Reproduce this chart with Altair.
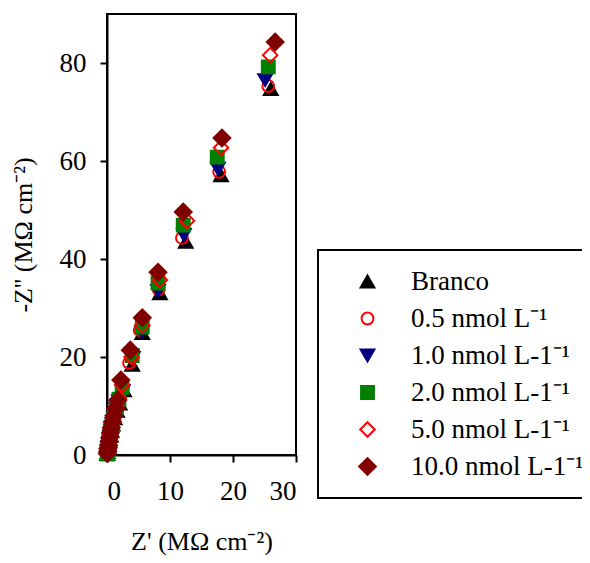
import altair as alt
import pandas as pd

series = ["Branco", "0.5 nmol L⁻¹", "1.0 nmol L-1⁻¹", "2.0 nmol L-1⁻¹",
          "5.0 nmol L-1⁻¹", "10.0 nmol L-1⁻¹"]

branco_x = [0.05, 0.1, 0.2, 0.3, 0.4, 0.55, 0.7, 0.9, 1.2, 1.6, 2.0, 2.7, 4.0, 5.6, 8.4, 12.5, 18.1, 26.0]
branco_y = [0.2, 0.6, 1.2, 2.0, 2.9, 3.9, 5.0, 6.2, 7.5, 9.0, 10.5, 13.2, 18.4, 24.9, 33.0, 43.5, 57.1, 74.7]

c05_x = [0.05, 0.1, 0.2, 0.3, 0.4, 0.5, 0.65, 0.85, 1.1, 1.5, 1.9, 2.5, 3.5, 5.2, 8.2, 11.9, 17.8, 25.6]
c05_y = [0.2, 0.6, 1.2, 2.0, 2.9, 3.9, 5.0, 6.3, 7.7, 9.3, 11.0, 13.8, 18.8, 25.5, 33.8, 44.3, 57.8, 75.3]

c10_x = [0.05, 0.1, 0.2, 0.3, 0.4, 0.5, 0.65, 0.85, 1.1, 1.5, 1.9, 2.5, 4.1, 5.6, 8.1, 12.2, 17.6, 25.1]
c10_y = [0.2, 0.6, 1.2, 2.0, 2.9, 3.9, 5.0, 6.3, 7.7, 9.3, 11.0, 13.0, 19.8, 25.1, 33.5, 44.9, 58.4, 76.5]

c20_x = [0.05, 0.1, 0.2, 0.3, 0.4, 0.5, 0.65, 0.85, 1.1, 1.5, 1.9, 2.4, 4.0, 5.6, 8.1, 12.1, 17.5, 25.6]
c20_y = [0.2, 0.6, 1.3, 2.1, 3.0, 4.0, 5.2, 6.5, 7.9, 9.6, 11.4, 13.8, 20.3, 26.1, 35.1, 46.9, 60.8, 79.2]

c50_x = [0.05, 0.1, 0.2, 0.3, 0.4, 0.5, 0.65, 0.85, 1.1, 1.5, 1.9, 2.4, 3.9, 5.6, 8.4, 12.7, 18.1, 25.9]
c50_y = [0.2, 0.6, 1.3, 2.1, 3.0, 4.1, 5.3, 6.6, 8.0, 9.8, 11.6, 14.3, 20.0, 26.5, 35.7, 47.8, 62.7, 81.6]

c100_x = [0.05, 0.1, 0.15, 0.25, 0.35, 0.45, 0.55, 0.7, 0.85, 1.1, 1.4, 1.7, 2.2, 3.7, 5.6, 8.1, 12.1, 18.25, 26.7]
c100_y = [0.3, 0.7, 1.3, 2.0, 2.8, 3.6, 4.6, 5.6, 6.8, 8.0, 9.5, 11.2, 15.3, 21.4, 28.0, 37.3, 49.6, 64.7, 84.3]

shapes = ["triangle-up", "circle", "triangle-down", "square", "diamond", "diamond"]
strokes = ["#000000", "#ff0000", "#000080", "#008000", "#ff0000", "#800000"]
fills = ["#000000", "transparent", "#000080", "#008000", "transparent", "#800000"]
sizes = [190, 140, 190, 165, 210, 280]

xs = [branco_x, c05_x, c10_x, c20_x, c50_x, c100_x]
ys = [branco_y, c05_y, c10_y, c20_y, c50_y, c100_y]

rows = []
for i, name in enumerate(series):
    for xv, yv in zip(xs[i], ys[i]):
        rows.append({"serie": name, "ordem": i, "x": xv, "y": yv})
df = pd.DataFrame(rows)

leg = alt.Legend(
    title=None, orient="none", legendX=211, legendY=236,
    padding=18,
    labelFont="Liberation Serif", labelFontSize=27, labelColor="black",
    symbolOffset=18, labelOffset=30, rowPadding=9, labelLimit=400,
    symbolStrokeWidth=2,
)

chart = alt.Chart(df).mark_point(filled=True, strokeWidth=2, opacity=1).encode(
    x=alt.X("x:Q", scale=alt.Scale(domain=[0, 30], nice=False),
            axis=alt.Axis(values=[0, 10, 20, 30], title="Z' (MΩ cm⁻²)",
                          labelPadding=16, titlePadding=24)),
    y=alt.Y("y:Q", scale=alt.Scale(domain=[0, 90], nice=False),
            axis=alt.Axis(values=[0, 20, 40, 60, 80], title="-Z'' (MΩ cm⁻²)",
                          labelPadding=14, titlePadding=23)),
    shape=alt.Shape("serie:N", scale=alt.Scale(domain=series, range=shapes), legend=leg),
    stroke=alt.Stroke("serie:N", scale=alt.Scale(domain=series, range=strokes), legend=leg),
    fill=alt.Fill("serie:N", scale=alt.Scale(domain=series, range=fills), legend=leg),
    size=alt.Size("serie:N", scale=alt.Scale(type="ordinal", domain=series, range=sizes), legend=leg),
    order=alt.Order("ordem:Q"),
).properties(
    width=189, height=441,
    autosize=alt.AutoSizeParams(type="none"),
    padding={"left": 99, "top": 6, "right": 286, "bottom": 100},
).configure_view(
    stroke="black", strokeWidth=2
).configure_legend(
    strokeColor="black", strokeWidth=2
).configure_axis(
    labelFont="Liberation Serif", titleFont="Liberation Serif",
    labelFontSize=27, titleFontSize=26, titleFontWeight="normal",
    labelColor="black", titleColor="black",
    domainColor="black", domainWidth=2, tickColor="black", tickWidth=2,
    tickSize=7, grid=False,
)

chart.save("out.html", embed_options={"renderer": "svg", "actions": False})
